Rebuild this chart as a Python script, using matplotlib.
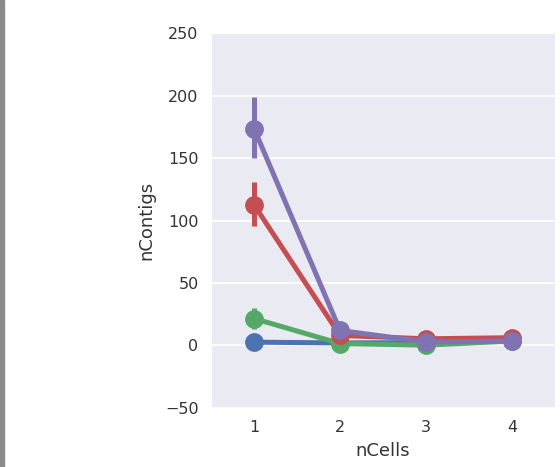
import matplotlib
matplotlib.use("Agg")
import matplotlib.pyplot as plt
import seaborn as sns

# data
ncells = ["1", "2", "3", "4"]
blue_y = [2.6, 2.0, 2.2, 4.0]
blue_lo = [1.5, 1.5, 1.8, 3.5]
blue_hi = [3.8, 2.5, 2.6, 4.5]
green_y = [21.5, 1.5, 0.2, 3.5]
green_lo = [13.5, 1.0, 0.0, 3.0]
green_hi = [30.0, 2.0, 0.5, 4.0]
red_y = [112.5, 8.0, 5.3, 6.2]
red_lo = [96.0, 6.5, 4.5, 5.5]
red_hi = [131.0, 9.5, 6.0, 7.0]
purple_y = [173.5, 12.0, 2.8, 3.6]
purple_lo = [150.0, 10.5, 2.3, 3.1]
purple_hi = [199.0, 13.5, 3.3, 4.1]

series = [
    (blue_y, blue_lo, blue_hi, "#4C72B0"),
    (green_y, green_lo, green_hi, "#55A868"),
    (red_y, red_lo, red_hi, "#C44E52"),
    (purple_y, purple_lo, purple_hi, "#8172B2"),
]

sns.set_style("darkgrid")
plt.rcParams["font.family"] = ["DejaVu Sans"]

fig = plt.figure(figsize=(5.6, 4.67), dpi=100)
ax = fig.add_axes([0.377, 0.1266, 0.614, 0.8024])

xs = list(range(len(ncells)))
for y, lo, hi, c in series:
    ax.vlines(xs, lo, hi, color=c, lw=3.6, zorder=3)
    ax.plot(xs, y, color=c, lw=3.6, marker="o", markersize=12.5, zorder=3)

ax.set_xlim(-0.5, 3.5)
ax.set_ylim(-50, 250)
ax.set_yticks([-50, 0, 50, 100, 150, 200, 250])
ax.set_xticks(xs)
ax.set_xticklabels(ncells)
ax.grid(False, axis="x")
ax.grid(True, axis="y", color="white", lw=1.2)
ax.tick_params(labelsize=11.5, colors="#333333", length=0, pad=9)
ax.set_xlabel("nCells", fontsize=13, color="#333333", labelpad=5)
ax.set_ylabel("nContigs", fontsize=13, color="#333333", labelpad=7)

# gray strip at the very left edge of the screenshot
fig.patches.append(plt.Rectangle((0, 0), 3.5 / 560, 1, transform=fig.transFigure,
                                 color="#8a8a8a", zorder=0))

fig.savefig("out.png", dpi=100)
